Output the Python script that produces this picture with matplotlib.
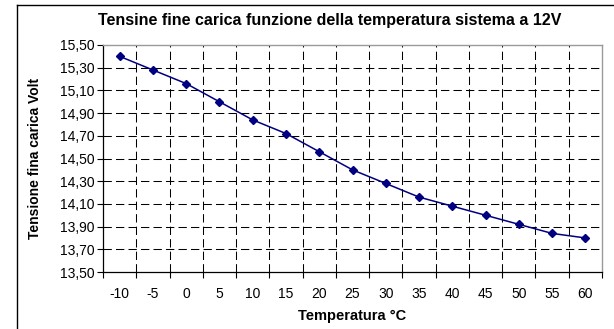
import matplotlib
matplotlib.use("Agg")
import matplotlib.pyplot as plt
from matplotlib.lines import Line2D
import numpy as np

plt.rcParams['font.family'] = ['Liberation Sans', 'DejaVu Sans']

# dati
temperature = [-10, -5, 0, 5, 10, 15, 20, 25, 30, 35, 40, 45, 50, 55, 60]
tensione = [15.40, 15.28, 15.16, 15.00, 14.84, 14.72, 14.56, 14.40,
            14.28, 14.16, 14.08, 14.00, 13.92, 13.84, 13.80]
y_ticks = [13.50, 13.70, 13.90, 14.10, 14.30, 14.50, 14.70, 14.90,
           15.10, 15.30, 15.50]

W, H = 614, 329
fig = plt.figure(figsize=(W / 100, H / 100), dpi=100)
ax = fig.add_axes([103 / W, (H - 272) / H, (602 - 103) / W, 227 / H])

# asse a categorie come in Excel: punti al centro di ogni categoria
pos = np.arange(len(temperature)) + 0.5
ax.plot(pos, tensione, color='#000080', lw=1.1, marker='D', ms=4.5,
        mfc='#000080', mec='#000080', zorder=3)

ax.set_xlim(0, len(temperature))
ax.set_ylim(13.5, 15.5)

ax.set_xticks(np.arange(len(temperature) + 1))
ax.set_xticklabels([])
ax.set_xticks(pos, minor=True)
ax.set_xticklabels([str(t) for t in temperature], minor=True)
ax.tick_params(axis='x', which='minor', length=0, pad=11, labelsize=10)
ax.tick_params(axis='x', which='major', length=4, width=0.8, direction='out')
ax.set_yticks(y_ticks)
ax.set_yticklabels([('%.2f' % v).replace('.', ',') for v in y_ticks])
ax.tick_params(axis='y', length=4, width=0.8, direction='out', labelsize=10, pad=2)

dash = (0, (8, 4))
for v in y_ticks[1:-1]:
    ax.axhline(v, color='black', lw=0.75, ls=dash, zorder=1)
for i in range(1, len(temperature)):
    ax.axvline(i, color='black', lw=0.75, ls=dash, zorder=1)

for s in ['left', 'bottom']:
    ax.spines[s].set_color('black')
    ax.spines[s].set_linewidth(0.9)
for s in ['top', 'right']:
    ax.spines[s].set_color('#9a9a9a')
    ax.spines[s].set_linewidth(1.0)

ax.set_xlabel('Temperatura °C', fontsize=10.5, fontweight='bold')
ax.xaxis.set_label_coords(0.5, -(316 - 272) / 227)
ax.xaxis.label.set_va('center')
ax.set_ylabel('Tensione fina carica Volt', fontsize=10, fontweight='bold')
ax.yaxis.set_label_coords((42 - 103) / 499, 0.5)
fig.text(330 / W, 1 - 21 / H, 'Tensine fine carica funzione della temperatura sistema a 12V',
         ha='center', va='center', fontsize=11.5, fontweight='bold')

# bordo dell'area del grafico
fig.add_artist(Line2D([16.5 / W, 16.5 / W], [0, 1 - 4.5 / H], color='black', lw=1.0))
fig.add_artist(Line2D([16.5 / W, 1], [1 - 4.5 / H, 1 - 4.5 / H], color='black', lw=1.0))

fig.savefig('out.png', dpi=100)
